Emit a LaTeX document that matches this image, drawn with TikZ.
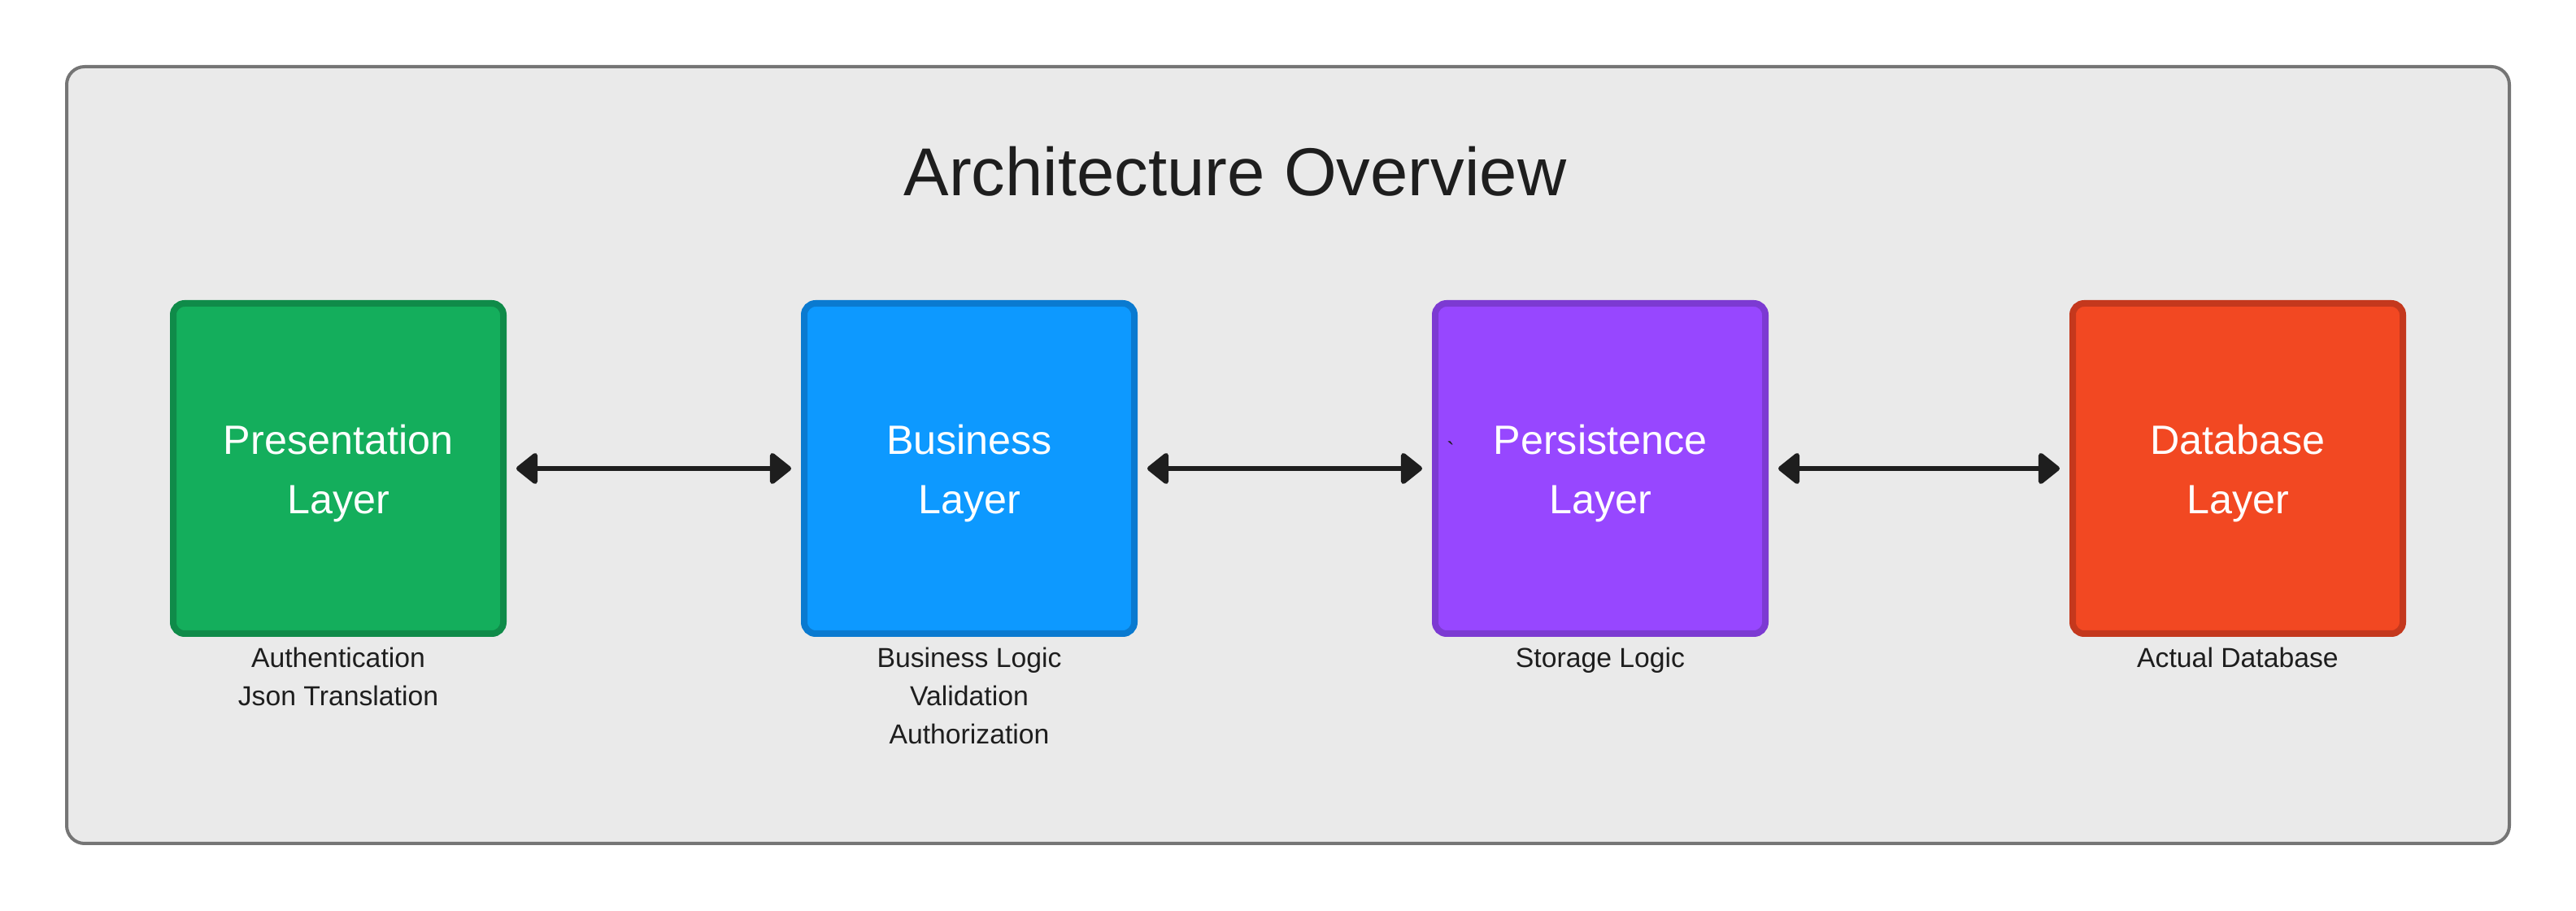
\documentclass[tikz,border=0pt]{standalone}
\usepackage{fontspec}
\setmainfont{Liberation Sans}
\usetikzlibrary{positioning,arrows.meta}

\definecolor{framefill}{HTML}{EAEAEA}
\definecolor{framedraw}{HTML}{757575}
\definecolor{inkdark}{HTML}{1E1E1E}
\definecolor{presfill}{HTML}{14AE5C}
\definecolor{presdraw}{HTML}{0F8B49}
\definecolor{busfill}{HTML}{0D99FF}
\definecolor{busdraw}{HTML}{0A7AD0}
\definecolor{persfill}{HTML}{9747FF}
\definecolor{persdraw}{HTML}{7C3AD2}
\definecolor{dbfill}{HTML}{F24822}
\definecolor{dbdraw}{HTML}{C4381D}

\begin{document}
\begin{tikzpicture}[
  layerbox/.style={draw, line width=0.08cm, rounded corners=0.14cm, minimum size=4.06cm,
    inner sep=0pt, text=white, align=center, text height=1.21cm, font=\fontsize{14.3}{20.7}\selectfont},
  notetext/.style={text=inkdark, align=center, inner sep=0pt, font=\fontsize{9.6}{13.4}\selectfont},
  link/.style={{Triangle[length=0.28cm,width=0.43cm,round]}-{Triangle[length=0.28cm,width=0.43cm,round]},
    line width=0.06cm, draw=inkdark, shorten <=0.12cm, shorten >=0.12cm}
]
  \useasboundingbox (0,0) rectangle (31.68,11.2);

  % Outer frame
  \draw[framedraw, fill=framefill, line width=0.04cm, rounded corners=0.22cm] (0.82,0.83) rectangle (30.86,10.38);

  % Title
  \node[anchor=base, text=inkdark, font=\fontsize{23.7}{28}\selectfont] (title) at (15.19,8.79) {Architecture Overview};

  % Layers
  \node[layerbox, fill=presfill, draw=presdraw] (pres) at (4.16,5.44) {Presentation\\Layer};
  \node[layerbox, fill=busfill, draw=busdraw] (bus) at (11.92,5.44) {Business\\Layer};
  \node[layerbox, fill=persfill, draw=persdraw] (pers) at (19.68,5.44) {Persistence\\Layer};
  \node[layerbox, fill=dbfill, draw=dbdraw] (db) at (27.52,5.44) {Database\\Layer};
  \node[text=inkdark, inner sep=0pt, font=\fontsize{8}{8}\selectfont] (tick) at (17.84,5.67) {\textasciigrave};

  % Notes under each layer
  \node[notetext, below=0.12cm of pres] (presnote) {Authentication\\Json Translation};
  \node[notetext, below=0.12cm of bus] (busnote) {Business Logic\\Validation\\Authorization};
  \node[notetext, below=0.12cm of pers] (persnote) {Storage Logic};
  \node[notetext, below=0.12cm of db] (dbnote) {Actual Database};

  % Links between layers
  \draw[link] (pres) -- (bus);
  \draw[link] (bus) -- (pers);
  \draw[link] (pers) -- (db);
\end{tikzpicture}
\end{document}
